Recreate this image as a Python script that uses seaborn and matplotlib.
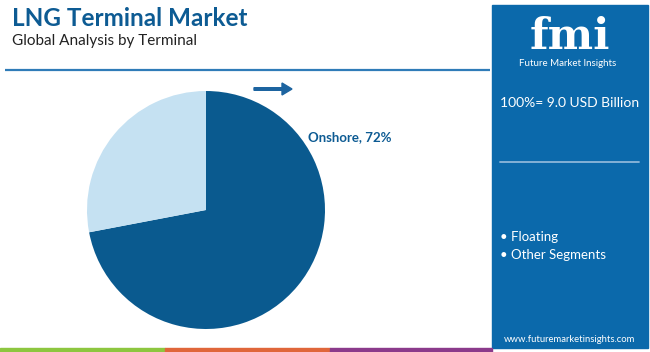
import matplotlib
matplotlib.use("Agg")
import matplotlib.pyplot as plt
import seaborn as sns
from matplotlib.patches import Rectangle, FancyArrow

segments = ["Onshore", "Floating"]
shares = [72, 28]
legend_items = ["Floating", "Other Segments"]
title = "LNG Terminal Market"
subtitle = "Global Analysis by Terminal"
total_label = "100%= 9.0 USD Billion"

sns.set_theme(style="white")
plt.rcParams['font.family'] = ['Lato', 'DejaVu Sans']

W, H = 650, 352
fig = plt.figure(figsize=(W / 100, H / 100), dpi=100)
fig.patch.set_facecolor("white")

bg = fig.add_axes([0, 0, 1, 1])
bg.set_xlim(0, W)
bg.set_ylim(H, 0)
bg.axis("off")

# Title & subtitle
bg.text(12, 19, title, fontsize=17.5, fontweight="bold", color="#0d5b93", va="center", ha="left")
bg.text(12, 41, subtitle, fontsize=11, color="#222222", va="center", ha="left")
# underline
bg.plot([5, 490], [70, 70], color="#2f7cb8", lw=1.6, solid_capstyle="butt")

# right panel
bg.add_patch(Rectangle((492, 5), 156, 343, color="#0b69ab", zorder=1))
bg.text(570, 49, "fmi", fontsize=31, fontweight="bold", family=["DejaVu Serif"], color="white",
        ha="center", va="baseline", zorder=3)
bg.text(568, 64, "Future Market Insights", fontsize=7, color="white", ha="center", va="center", zorder=3)
bg.text(570, 103, total_label, fontsize=10, color="white", ha="center", va="center", zorder=3)
bg.plot([500, 639], [162, 162], color="#8db7da", lw=1.3, zorder=3)
for i, item in enumerate(legend_items):
    bg.text(500, 237 + 18 * i, "\u2022 " + item, fontsize=9.5, color="white", ha="left", va="center", zorder=3)
bg.text(570, 339, "www.futuremarketinsights.com", fontsize=6.8, color="white", ha="center", va="center", zorder=3)

# bottom strip
for x0, x1, c in [(0, 165, "#8dc63f"), (165, 330, "#e0663a"), (330, 492, "#8b3a8b")]:
    bg.add_patch(Rectangle((x0, 348), x1 - x0, 4, color=c, zorder=2))

# arrow
bg.add_patch(FancyArrow(254, 89, 28, 0, width=2.6, head_width=12, head_length=10,
                        length_includes_head=False, color="#1d64a0", zorder=3))

# label
bg.text(308, 137, f"{segments[0]}, {shares[0]}%", fontsize=9.5, fontweight="bold",
        color="#0d5b93", ha="left", va="center")

# pie
cx, cy, r = 206, 210, 119
l, b = (cx - r) / W, (H - cy - r) / H
ax = fig.add_axes([l, b, 2 * r / W, 2 * r / H])
colors = ["#0a5a8f", "#c5e1f2"]
ax.pie(shares, colors=colors, startangle=90, counterclock=False,
       wedgeprops=dict(linewidth=0))
ax.set_xlim(-1, 1)
ax.set_ylim(-1, 1)
ax.set_aspect("equal")
ax.axis("off")

fig.savefig("out.png", dpi=100)
